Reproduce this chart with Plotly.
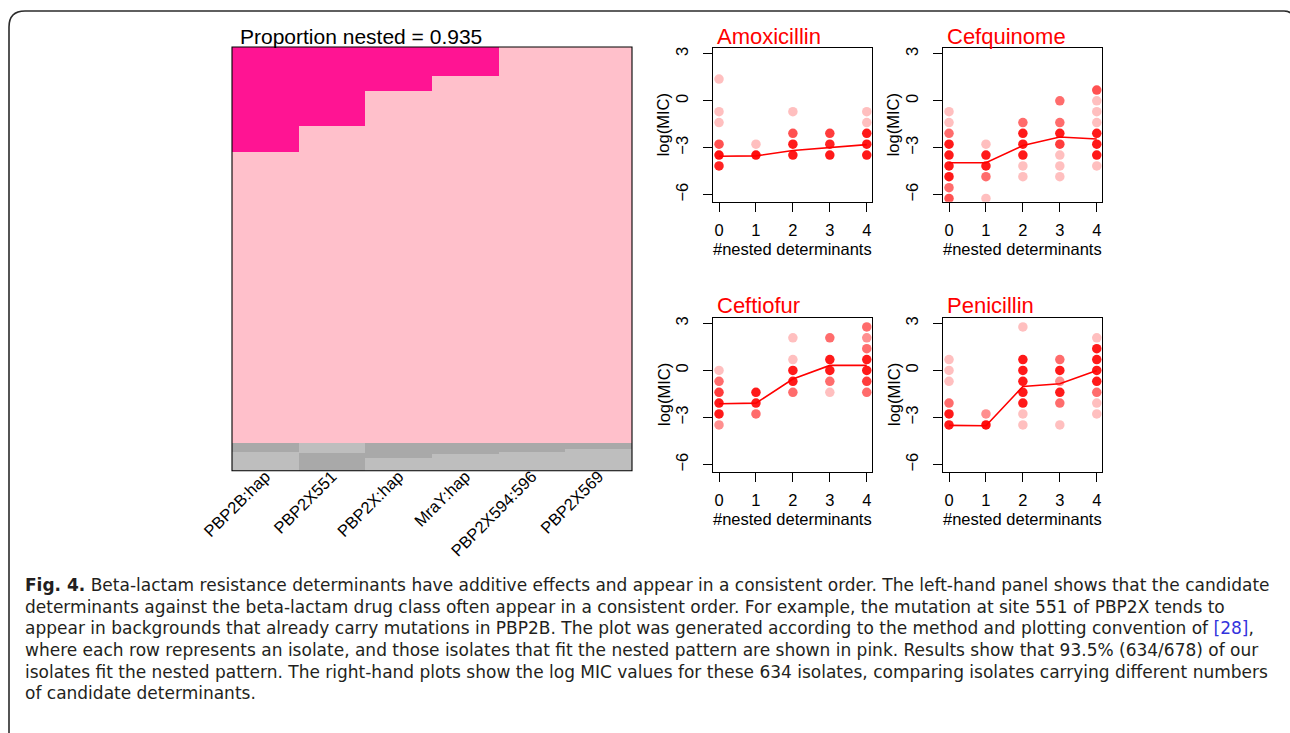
import numpy as np
import plotly.graph_objects as go

W, H = 1290, 733


def px(x):
    return x / W


def py(y):
    return 1 - y / H


# ---------------- data: nestedness heatmap ----------------
determinants = ["PBP2B:hap", "PBP2X551", "PBP2X:hap", "MraY:hap", "PBP2X594:596", "PBP2X569"]
n_isolates = 678
n_nested = 634
nested_title = "Proportion nested = 0.935"
# number of nested isolates (top rows) carrying each determinant
nested_carriers = [168, 126, 70, 46, 0, 0]
# rows (within the 44 non-nested isolates) carrying each determinant: [start, end)
nonnested_carrier_rows = [(0, 14), (15, 44), (0, 23), (0, 17), (0, 13), (0, 9)]

# ---------------- data: log(MIC) vs number of nested determinants ----------------
drugs = ["Amoxicillin", "Cefquinome", "Ceftiofur", "Penicillin"]

amox_x = [0, 0, 0, 0, 0, 0, 1, 1, 2, 2, 2, 2, 3, 3, 3, 4, 4, 4, 4, 4]
amox_y = [1.39, -0.69, -1.39, -2.77, -3.47, -4.16, -2.77, -3.47, -0.69, -2.08, -2.77, -3.47,
          -2.08, -2.77, -3.47, -0.69, -1.39, -2.08, -2.77, -3.47]
amox_n = [1, 1, 1, 4, 10, 7, 1, 10, 1, 4, 8, 8, 5, 7, 8, 1, 1, 8, 8, 8]
amox_mean = [-3.54, -3.52, -3.18, -3.01, -2.80]

cefq_x = [0, 0, 0, 0, 0, 0, 0, 0, 0, 1, 1, 1, 1, 1, 2, 2, 2, 2, 2, 2,
          3, 3, 3, 3, 3, 3, 3, 4, 4, 4, 4, 4, 4, 4, 4]
cefq_y = [-0.69, -1.39, -2.08, -2.77, -3.47, -4.16, -4.85, -5.55, -6.24,
          -2.77, -3.47, -4.16, -4.85, -6.24,
          -1.39, -2.08, -2.77, -3.47, -4.16, -4.85,
          0.0, -1.39, -2.08, -2.77, -3.47, -4.16, -4.85,
          0.69, 0.0, -0.69, -1.39, -2.08, -2.77, -3.47, -4.16]
cefq_n = [1, 1, 3, 8, 8, 8, 8, 3, 4,
          1, 8, 8, 3, 1,
          3, 8, 8, 8, 1, 1,
          3, 3, 8, 5, 1, 1, 1,
          4, 1, 1, 1, 8, 8, 8, 1]
cefq_mean = [-3.96, -3.96, -2.86, -2.31, -2.44]

ceft_x = [0, 0, 0, 0, 0, 0, 1, 1, 1, 2, 2, 2, 2, 2, 3, 3, 3, 3, 3, 4, 4, 4, 4, 4, 4, 4]
ceft_y = [0.0, -0.69, -1.39, -2.08, -2.77, -3.47,
          -1.39, -2.08, -2.77,
          2.08, 0.69, 0.0, -0.69, -1.39,
          2.08, 0.69, 0.0, -0.69, -1.39,
          2.77, 2.08, 1.39, 0.69, 0.0, -0.69, -1.39]
ceft_n = [1, 3, 5, 8, 8, 2,
          8, 8, 3,
          1, 1, 8, 8, 3,
          3, 8, 8, 3, 1,
          3, 2, 3, 8, 8, 5, 3]
ceft_mean = [-2.12, -2.08, -0.55, 0.32, 0.32]

pen_x = [0, 0, 0, 0, 0, 0, 1, 1, 2, 2, 2, 2, 2, 2, 2, 2,
         3, 3, 3, 3, 3, 3, 4, 4, 4, 4, 4, 4, 4, 4]
pen_y = [0.69, 0.0, -0.69, -2.08, -2.77, -3.47,
         -2.77, -3.47,
         2.77, 0.69, 0.0, -0.69, -1.39, -2.08, -2.77, -3.47,
         0.69, 0.0, -0.69, -1.39, -2.08, -3.47,
         2.08, 1.39, 0.69, 0.0, -0.69, -1.39, -2.08, -2.77]
pen_n = [1, 1, 1, 3, 8, 8,
         2, 10,
         1, 8, 8, 8, 8, 8, 1, 1,
         3, 8, 2, 8, 3, 1,
         1, 8, 8, 8, 8, 3, 1, 1]
pen_mean = [-3.50, -3.52, -1.02, -0.85, 0.0]

n_det = [0, 1, 2, 3, 4]
ytick_vals = [-6, -3, 0, 3]
ytick_text = ["\u22126", "\u22123", "0", "3"]

caption_lines = [
    "<b>Fig. 4.</b> Beta-lactam resistance determinants have additive effects and appear in a consistent order. The left-hand panel shows that the candidate",
    "determinants against the beta-lactam drug class often appear in a consistent order. For example, the mutation at site 551 of PBP2X tends to",
    "appear in backgrounds that already carry mutations in PBP2B. The plot was generated according to the method and plotting convention of <span style='color:#3333dd'>[28]</span>,",
    "where each row represents an isolate, and those isolates that fit the nested pattern are shown in pink. Results show that 93.5% (634/678) of our",
    "isolates fit the nested pattern. The right-hand plots show the log MIC values for these 634 isolates, comparing isolates carrying different numbers",
    "of candidate determinants.",
]

# ---------------- build figure ----------------
FONT = "Liberation Sans, Arial, Helvetica, sans-serif"
CAP_FONT = "DejaVu Sans, Open Sans, sans-serif"
fig = go.Figure()

z = np.zeros((n_isolates, len(determinants)))
for j in range(len(determinants)):
    z[:nested_carriers[j], j] = 1
    z[n_nested:, j] = 2
    s, e = nonnested_carrier_rows[j]
    z[n_nested + s:n_nested + e, j] = 3

cs = [[0, "#FFC0CB"], [0.166, "#FFC0CB"], [0.166, "#FF1493"], [0.5, "#FF1493"],
      [0.5, "#BEBEBE"], [0.833, "#BEBEBE"], [0.833, "#A9A9A9"], [1, "#A9A9A9"]]
fig.add_trace(go.Heatmap(z=z, x=determinants, y=list(range(n_isolates)), colorscale=cs,
                         zmin=0, zmax=3, showscale=False, hoverinfo="skip",
                         xaxis="x", yaxis="y"))

boxes = [  # (left, right, top, bottom) in px
    (713.3, 872.3, 48.3, 201.7),
    (943.3, 1102.3, 48.3, 201.7),
    (713.3, 872.3, 317.7, 471.7),
    (943.3, 1102.3, 317.7, 471.7),
]
panel_data = [
    (amox_x, amox_y, amox_n, amox_mean),
    (cefq_x, cefq_y, cefq_n, cefq_mean),
    (ceft_x, ceft_y, ceft_n, ceft_mean),
    (pen_x, pen_y, pen_n, pen_mean),
]


def rgba(n):
    a = 1 - 0.75 ** n
    return f"rgba(255,0,0,{a:.3f})"


layout_axes = {}
annotations = []
for i, ((xs, ys, ns, means), (l, r, t, b)) in enumerate(zip(panel_data, boxes)):
    k = i + 2
    fig.add_trace(go.Scatter(x=xs, y=ys, mode="markers",
                             marker=dict(size=9.5, color=[rgba(n) for n in ns], line=dict(width=0)),
                             xaxis=f"x{k}", yaxis=f"y{k}", hoverinfo="skip", showlegend=False))
    fig.add_trace(go.Scatter(x=n_det, y=means, mode="lines",
                             line=dict(color="#FF0000", width=1.6),
                             xaxis=f"x{k}", yaxis=f"y{k}", hoverinfo="skip", showlegend=False))
    layout_axes[f"xaxis{k}"] = dict(domain=[px(l), px(r)], anchor=f"y{k}", range=[-0.155, 4.15],
                                    tickvals=n_det, ticks="outside", ticklen=9, tickwidth=1.1,
                                    tickcolor="black", showline=True, linecolor="black",
                                    linewidth=1.1, mirror=True, showgrid=False, zeroline=False,
                                    automargin=False,
                                    tickfont=dict(family=FONT, size=16.5, color="black"),
                                    ticklabelstandoff=4)
    layout_axes[f"yaxis{k}"] = dict(domain=[py(b), py(t)], anchor=f"x{k}", range=[-6.45, 3.36],
                                    tickvals=ytick_vals, ticktext=ytick_text, tickangle=-90,
                                    ticks="outside", ticklen=9, tickwidth=1.1, tickcolor="black",
                                    showline=True, linecolor="black", linewidth=1.1, mirror=True,
                                    showgrid=False, zeroline=False, automargin=False,
                                    tickfont=dict(family=FONT, size=16.5, color="black"),
                                    ticklabelstandoff=9)
    annotations.append(dict(text=drugs[i], x=px(l + 1.5), y=py(t - 12), xref="paper", yref="paper",
                            xanchor="left", yanchor="middle", showarrow=False,
                            font=dict(family=FONT, size=22, color="#FF0000")))
    annotations.append(dict(text="#nested determinants", x=px((l + r) / 2), y=py(b + 47),
                            xref="paper", yref="paper", xanchor="center", yanchor="middle",
                            showarrow=False, font=dict(family=FONT, size=16.5, color="black")))
    annotations.append(dict(text="log(MIC)", x=px(l - 50), y=py((t + b) / 2), xref="paper",
                            yref="paper", xanchor="center", yanchor="middle", textangle=-90,
                            showarrow=False, font=dict(family=FONT, size=16.5, color="black")))

annotations.append(dict(text=nested_title, x=px(238), y=py(36.5), xref="paper", yref="paper",
                        xanchor="left", yanchor="middle", showarrow=False,
                        font=dict(family=FONT, size=21, color="black")))

for i, line in enumerate(caption_lines):
    annotations.append(dict(text=line, x=px(24), y=py(585 + 21.67 * i), xref="paper", yref="paper",
                            xanchor="left", yanchor="middle", showarrow=False, borderpad=0,
                            font=dict(family=CAP_FONT, size=17, color="#231F20")))

shapes = [
    dict(type="rect", xref="x domain", yref="y domain", x0=0, x1=1, y0=0, y1=1,
         line=dict(color="black", width=1.1)),
    dict(type="path", xref="paper", yref="paper",
         path=(f"M {px(9)},{py(740)} L {px(9)},{py(27)} Q {px(9)},{py(11)} {px(25)},{py(11)} "
               f"L {px(1284)},{py(11)} Q {px(1292)},{py(11)} {px(1294)},{py(18)}"),
         line=dict(color="#2b2b2b", width=1.6)),
]

fig.update_layout(
    width=W, height=H, autosize=False,
    margin=dict(l=0, r=0, t=0, b=0, pad=0, autoexpand=False),
    paper_bgcolor="white", plot_bgcolor="white",
    showlegend=False,
    xaxis=dict(domain=[px(232), px(632)], anchor="y", tickangle=-45, ticks="", showline=False,
               showgrid=False, zeroline=False, automargin=False,
               tickfont=dict(family=FONT, size=16.5, color="black"),
               ticklabelstandoff=-8),
    yaxis=dict(domain=[py(470.7), py(47)], anchor="x", range=[n_isolates - 0.5, -0.5],
               visible=False, automargin=False),
    annotations=annotations,
    shapes=shapes,
    **layout_axes,
)

fig.write_html("out.html", config={"displayModeBar": False},
               post_script="document.body.style.margin='0';document.body.style.overflow='hidden';")
